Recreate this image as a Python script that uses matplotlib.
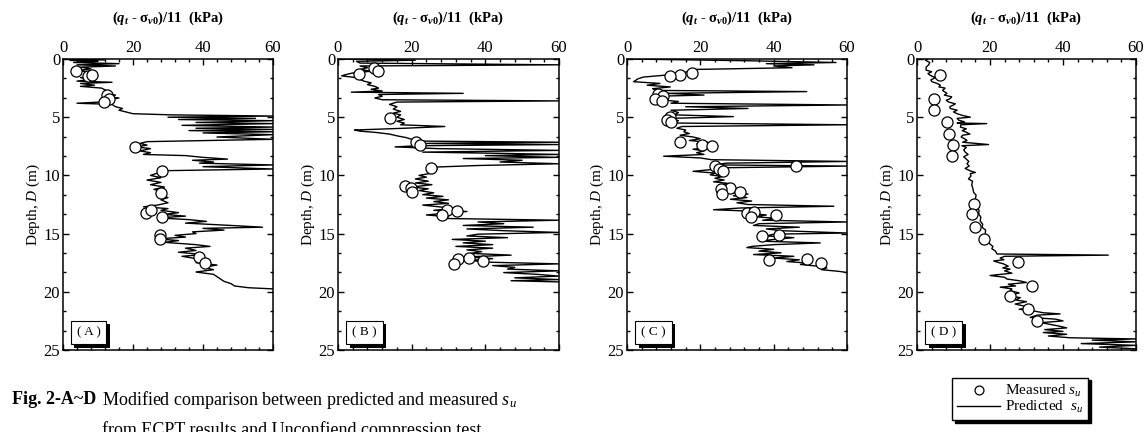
import matplotlib
matplotlib.use('Agg')
import matplotlib.pyplot as plt
import matplotlib.patheffects as pe
from matplotlib.ticker import MultipleLocator, AutoMinorLocator

# 4 地点の CPT から推定した s_u (実線) と一軸圧縮試験の s_u (丸) を深さ方向に並べて描画

plt.rcParams['font.family'] = ['Liberation Serif', 'DejaVu Serif']
plt.rcParams['mathtext.fontset'] = 'custom'
plt.rcParams['mathtext.rm'] = 'Liberation Serif:bold'
plt.rcParams['mathtext.it'] = 'Liberation Serif:italic:bold'
plt.rcParams['mathtext.bf'] = 'Liberation Serif:bold'
plt.rcParams['mathtext.sf'] = 'Liberation Serif:italic'

# ---- (A) ----
a_depth = [0.0, 0.05, 0.12, 0.2, 0.3, 0.4, 0.5, 0.6, 0.7, 0.85, 1.0, 1.15, 1.3, 1.45, 1.6, 1.75, 1.9, 2.0,
           2.1, 2.25, 2.35, 2.5, 2.65, 2.8, 2.95, 3.1, 3.25, 3.35, 3.5, 3.65, 3.8, 3.9, 4.1, 4.25, 4.4, 4.55,
           4.7, 4.8, 4.9, 5.0, 5.1, 5.2, 5.3, 5.45, 5.55, 5.7, 5.85, 5.95, 6.05, 6.15, 6.25, 6.35, 6.5, 6.7,
           6.9, 7.1, 7.25, 7.4, 7.55, 7.7, 7.9, 8.05, 8.2, 8.3, 8.45, 8.6, 8.7, 8.85, 8.95, 9.1, 9.25, 9.45,
           9.6, 9.8, 10.0, 10.2, 10.4, 10.6, 10.8, 11.0, 11.2, 11.45, 11.7, 11.9, 12.1, 12.35, 12.55, 12.7,
           12.85, 13.0, 13.2, 13.35, 13.5, 13.65, 13.8, 13.95, 14.1, 14.3, 14.45, 14.55, 14.7, 14.85, 15.0,
           15.15, 15.3, 15.45, 15.6, 15.75, 15.95, 16.1, 16.25, 16.45, 16.6, 16.8, 16.95, 17.1, 17.3, 17.5,
           17.7, 17.9, 18.1, 18.3, 18.5, 18.7, 18.9, 19.1, 19.3, 19.5, 19.65, 19.75]
a_pred = [1, 12, 2, 10, 3, 16, 4, 15, 5, 8, 4, 9, 6, 10, 5, 8, 4, 14,
          5, 9, 5, 11, 12, 13, 12, 15, 13, 16, 13, 14, 4, 14, 15, 17, 16, 18,
          20, 31, 60, 30, 55, 33, 60, 38, 60, 34, 60, 38, 60, 36, 60, 40, 60, 44,
          60, 24, 22, 24, 21, 25, 22, 25, 23, 35, 40, 47, 37, 43, 39, 60, 40, 60,
          28, 27, 25, 28, 24, 28, 25, 29, 26, 29, 27, 30, 28, 30, 27, 23,
          30, 28, 33, 29, 35, 27, 36, 41, 35, 48, 57, 40, 46, 37, 38,
          32, 35, 27, 33, 29, 38, 42, 35, 38, 33, 40, 34, 37, 42, 38,
          44, 40, 43, 38, 43, 44, 45, 46, 48, 49, 53, 60]
a_meas_depth = [1.0, 1.5, 1.4, 3.1, 3.4, 3.7, 7.6, 9.6, 11.5, 13.2, 13.0, 13.6, 15.1, 15.5, 17.0, 17.5]
a_meas = [3.6, 7.2, 8.2, 12.5, 13.0, 11.7, 20.5, 28.2, 28.0, 23.7, 25.0, 28.3, 27.7, 27.7, 38.9, 40.6]

# ---- (B) ----
b_depth = [0.0, 0.1, 0.2, 0.35, 0.5, 0.6, 0.75, 0.9, 1.05, 1.2, 1.35, 1.45, 1.6, 1.75, 1.9, 2.05, 2.2, 2.35,
           2.5, 2.6, 2.75, 2.85, 2.95, 3.05, 3.2, 3.35, 3.5, 3.6, 3.7, 3.9, 4.1, 4.3, 4.5, 4.65, 4.8, 5.0,
           5.2, 5.35, 5.5, 5.65, 5.8, 5.95, 6.1, 6.2, 6.3, 6.45, 6.6, 6.75, 6.9, 7.05, 7.15, 7.25, 7.35,
           7.45, 7.55, 7.7, 7.85, 8.0, 8.1, 8.2, 8.3, 8.45, 8.55, 8.7, 8.85, 9.0, 9.15, 9.3, 9.45, 9.6,
           9.8, 10.0, 10.15, 10.3, 10.5, 10.65, 10.8, 11.0, 11.15, 11.3, 11.5, 11.65, 11.8, 11.95, 12.1,
           12.25, 12.4, 12.55, 12.7, 12.85, 13.0, 13.1, 13.25, 13.4, 13.55, 13.7, 13.85, 14.0, 14.15, 14.3,
           14.45, 14.6, 14.75, 14.9, 15.05, 15.2, 15.35, 15.5, 15.65, 15.8, 15.95, 16.1, 16.25, 16.4, 16.55,
           16.7, 16.85, 17.0, 17.15, 17.3, 17.45, 17.6, 17.75, 17.9, 18.05, 18.2, 18.35, 18.5, 18.65, 18.8,
           18.95, 19.05, 19.15]
b_pred = [0, 21, 5, 6, 60, 6, 8, 6, 9, 4, 2, 1, 5, 6, 7, 9, 8, 10,
          11, 9, 12, 3.6, 34, 11, 12, 10, 12, 60, 16, 14, 16, 15, 17, 15, 17, 16,
          18, 16, 18, 17, 29, 18, 4.5, 6, 10, 14, 16, 18.5, 20, 21, 60, 24, 60,
          22, 15.5, 27, 60, 23, 43, 60, 40, 60, 34, 50, 44, 60, 38, 25, 27, 24,
          25.5, 22, 24, 21, 24.5, 21, 25.5, 20, 24.5, 22, 26, 23, 28.5, 24, 30,
          26, 30, 23, 27.5, 31, 26, 35, 29, 24, 30, 29, 60, 38, 45, 34,
          53, 35, 45, 60, 38, 35, 46, 31, 40, 34, 42, 32, 42, 35, 39,
          36, 47, 35, 42, 36, 40, 60, 42, 48, 46, 60, 45, 54, 60, 48,
          60, 47, 60]
b_meas_depth = [0.8, 1.07, 1.3, 5.05, 7.1, 7.4, 9.4, 10.9, 11.1, 11.45, 12.95, 13.1, 13.4, 17.15, 17.1, 17.35, 17.6]
b_meas = [9.8, 10.9, 5.6, 14.0, 21.1, 22.2, 25.3, 18.1, 19.9, 20.1, 29.7, 32.3, 28.3, 32.6, 35.6, 39.5, 31.4]

# ---- (C) ----
c_depth = [0.0, 0.15, 0.3, 0.4, 0.5, 0.6, 0.75, 0.9, 1.05, 1.2, 1.4, 1.55, 1.7, 1.95, 2.1, 2.25, 2.4, 2.55,
           2.7, 2.8, 2.95, 3.1, 3.2, 3.35, 3.5, 3.65, 3.8, 3.95, 4.1, 4.25, 4.4, 4.6, 4.8, 4.95, 5.1, 5.3,
           5.5, 5.65, 5.8, 5.95, 6.1, 6.25, 6.4, 6.55, 6.7, 6.85, 7.0, 7.15, 7.3, 7.45, 7.6, 7.75, 7.9,
           8.05, 8.2, 8.35, 8.5, 8.65, 8.8, 8.95, 9.1, 9.2, 9.35, 9.5, 9.65, 9.8, 9.95, 10.1, 10.25, 10.4,
           10.55, 10.7, 10.85, 11.0, 11.15, 11.3, 11.45, 11.6, 11.75, 11.9, 12.05, 12.2, 12.35, 12.5, 12.65,
           12.8, 12.95, 13.1, 13.25, 13.4, 13.55, 13.7, 13.85, 14.0, 14.15, 14.3, 14.45, 14.6, 14.75, 14.95,
           15.05, 15.2, 15.35, 15.5, 15.65, 15.8, 15.95, 16.1, 16.2, 16.35, 16.5, 16.65, 16.8, 16.95, 17.1,
           17.25, 17.4, 17.55, 17.65, 17.8, 17.95, 18.1, 18.25, 18.35]
c_pred = [0, 33, 57, 38, 51, 40, 45, 18, 17, 15, 10, 4.5, 3, 1.8, 9, 5.5, 11.8, 7,
          8, 49, 11, 21, 8, 10, 9, 14, 12, 60, 16, 33, 12, 14, 13, 29, 12, 14,
          13, 60, 15, 13.6, 16, 15.5, 17, 14.5, 18, 20, 17, 22, 19, 22, 21.8, 18, 21,
          19, 21, 10, 20, 23, 60, 27, 24, 60, 25, 23, 18, 24, 22.7, 26, 24, 26.5,
          23.6, 28, 25, 29, 26, 30, 27, 33, 29, 32.7, 28.2, 34, 30, 33, 56.4,
          31, 23.6, 36, 33, 38, 35, 41, 37, 60, 36, 34.5, 47, 38, 42, 60,
          40, 38, 45.5, 40, 36.4, 52.7, 40, 34, 32.7, 40, 36, 42, 34.5, 45.5, 40,
          47, 43.6, 50, 47.3, 52, 54.5, 53, 58, 60]
c_meas_depth = [1.2, 1.35, 1.5, 3.0, 3.15, 3.4, 3.6, 5.0, 5.2, 5.45, 7.1, 7.4, 7.5, 9.15, 9.2, 9.45, 9.6,
                11.1, 11.2, 11.45, 11.6, 13.2, 13.15, 13.6, 13.4, 15.2, 15.15, 17.3, 17.15, 17.55]
c_meas = [17.7, 14.4, 11.8, 8.4, 9.8, 7.5, 9.5, 11.8, 10.9, 12.0, 14.5, 20.5, 23.2, 46.0, 24.0, 25.0, 26.2,
          28.2, 25.6, 30.7, 26.0, 32.7, 34.7, 33.9, 40.7, 36.8, 41.5, 38.6, 49.0, 53.0]

# ---- (D) ----
d_depth = [0.0, 0.1, 0.3, 0.5, 0.7, 0.95, 1.1, 1.25, 1.4, 1.6, 1.8, 1.95, 2.1, 2.25, 2.4, 2.5, 2.7, 2.95,
           3.1, 3.25, 3.4, 3.55, 3.7, 3.85, 3.95, 4.1, 4.25, 4.4, 4.55, 4.7, 4.85, 5.0, 5.1, 5.25, 5.4,
           5.5, 5.55, 5.65, 5.85, 6.0, 6.15, 6.25, 6.45, 6.55, 6.7, 6.85, 7.0, 7.15, 7.35, 7.45, 7.6, 7.8,
           8.0, 8.2, 8.4, 8.6, 8.8, 9.0, 9.2, 9.4, 9.6, 9.75, 9.85, 10.05, 10.3, 10.5, 10.85, 11.1, 11.45,
           11.7, 12.0, 12.3, 12.7, 13.0, 13.3, 13.6, 13.9, 14.2, 14.45, 14.7, 15.0, 15.3, 15.6, 15.9, 16.1,
           16.3, 16.5, 16.75, 16.85, 16.95, 17.1, 17.25, 17.35, 17.5, 17.6, 17.8, 17.95, 18.05, 18.2, 18.4,
           18.6, 18.75, 18.9, 19.05, 19.2, 19.35, 19.5, 19.6, 19.75, 19.9, 20.1, 20.35, 20.5, 20.7, 20.85,
           21.05, 21.2, 21.35, 21.5, 21.65, 21.8, 21.9, 22.0, 22.2, 22.35, 22.5, 22.65, 22.8, 22.95, 23.1,
           23.25, 23.4, 23.5, 23.65, 23.8, 23.95, 24.05, 24.15, 24.3, 24.45, 24.6, 24.75, 24.9]
d_pred = [3, 2.3, 3.5, 3.2, 2.5, 2.5, 4, 3, 3.6, 5, 3.8, 4.1, 5.5, 6.4, 6, 7.7, 7, 8.2,
          7.5, 9.5, 9.1, 8, 8.7, 10.5, 10, 9, 9.1, 11, 10, 11, 12.5, 14.6, 11, 11.4, 13,
          11, 19.1, 12, 11.9, 13.5, 12.4, 13.2, 14.5, 12.5, 12.1, 13, 13.7, 12.5, 19.6, 12.3, 13.5, 12.8,
          13.2, 14, 12.8, 13.5, 14.2, 13.7, 14.3, 13.2, 14.5, 16, 14.6, 14.8, 14.1, 15.2, 15, 15.3, 15.5,
          16.2, 16, 16.5, 16.4, 17, 16.9, 17.5, 17.3, 18, 17.8, 18.8, 18.7, 19.4, 19.1, 20, 20.8,
          20.5, 21.5, 21.9, 52.4, 24, 22.8, 23.8, 21, 22.5, 23.7, 25, 23.5, 25.5, 24, 26,
          20, 24, 24.6, 28, 30, 25, 27, 22.8, 26, 25.5, 28, 24.6, 28.3, 27, 30,
          26.9, 29, 31, 28, 32, 34.6, 39.2, 33, 31, 38, 40, 34, 36.5, 39, 41,
          35, 40, 34.6, 41, 36, 42, 60, 48, 60, 45, 60, 50, 60]
d_meas_depth = [1.4, 3.4, 4.35, 5.4, 6.45, 7.4, 8.35, 12.45, 13.35, 14.45, 15.45, 17.45, 19.5, 20.4, 21.5, 22.55]
d_meas = [6.4, 4.6, 4.7, 8.2, 8.7, 9.8, 9.6, 15.5, 15.0, 16.0, 18.4, 27.8, 31.4, 25.5, 30.3, 32.8]

panels = ['A', 'B', 'C', 'D']
xlabel = r'($q_t$ - σ$_{v0}$)/11  (kPa)'

# 各パネルの位置 (left, width) : ピクセルから換算
W, H = 1144, 432
ax_x = [(63, 210), (338, 221), (627, 220), (917, 219)]
ax_top, ax_bot = 59, 350


def set_axisopts(ax, label):
    ax.set_xlim(0, 60)
    ax.set_ylim(25, 0)
    ax.xaxis.set_major_locator(MultipleLocator(20))
    ax.xaxis.set_minor_locator(AutoMinorLocator(5))
    ax.yaxis.set_major_locator(MultipleLocator(5))
    ax.yaxis.set_minor_locator(AutoMinorLocator(3))
    ax.tick_params(which='both', direction='in', top=True, right=True,
                   labeltop=True, labelbottom=False, width=1.0)
    ax.tick_params(which='major', length=4.5, labelsize=12, pad=2)
    ax.tick_params(which='minor', length=2.2)
    for sp in ax.spines.values():
        sp.set_linewidth(1.1)
    ax.set_ylabel(r'Depth, $\mathsf{D}$ (m)', fontsize=11, labelpad=1)

    # 左下のパネル記号 (影付きの枠)
    t = ax.text(0.065, 0.06, '( %s )' % label, transform=ax.transAxes, fontsize=9.5,
                ha='left', va='center',
                bbox=dict(boxstyle='square,pad=0.45', fc='white', ec='black', lw=0.8))
    t.get_bbox_patch().set_path_effects(
        [pe.withSimplePatchShadow(offset=(2.5, -2.5), shadow_rgbFace='black', alpha=1.0)])


def main():
    fig = plt.figure(figsize=(W / 100, H / 100), dpi=100)

    data = [(a_pred, a_depth, a_meas, a_meas_depth),
            (b_pred, b_depth, b_meas, b_meas_depth),
            (c_pred, c_depth, c_meas, c_meas_depth),
            (d_pred, d_depth, d_meas, d_meas_depth)]

    for i, (pred, depth, meas, meas_d) in enumerate(data):
        left, width = ax_x[i]
        ax = fig.add_axes([left / W, 1 - ax_bot / H, width / W, (ax_bot - ax_top) / H])
        ax.plot(pred, depth, color='black', lw=1.0, label=r'Predicted  $\mathsf{s_u}$')
        ax.plot(meas, meas_d, linestyle='none', marker='o', ms=8, mfc='white', mec='black',
                mew=0.9, label=r'Measured $\mathsf{s_u}$')
        set_axisopts(ax, panels[i])
        fig.text((left + width / 2) / W, 1 - 18 / H, xlabel, ha='center', va='center',
                 fontsize=10.5, fontweight='bold')

    # 凡例 (影付き)
    h, l = ax.get_legend_handles_labels()
    fig.legend(h[::-1], l[::-1], loc='center', bbox_to_anchor=(1020 / W, 1 - 399 / H),
               fontsize=11, frameon=True, fancybox=False, edgecolor='black',
               shadow={'color': 'black', 'alpha': 1.0}, handlelength=2.8, handletextpad=0.3,
               labelspacing=0.0, borderpad=0.35, borderaxespad=0, markerscale=0.8)

    # キャプション
    fig.text(12 / W, 1 - 400 / H, 'Fig. 2-A~D', fontsize=13, fontweight='bold', va='center')
    fig.text(102 / W, 1 - 400 / H,
             r'Modified comparison between predicted and measured $\mathsf{s_u}$',
             fontsize=13, va='center')
    fig.text(102 / W, 1 - 430 / H, 'from ECPT results and Unconfiend compression test',
             fontsize=13, va='center')

    fig.savefig('out.png', dpi=100)


if __name__ == '__main__':
    main()
